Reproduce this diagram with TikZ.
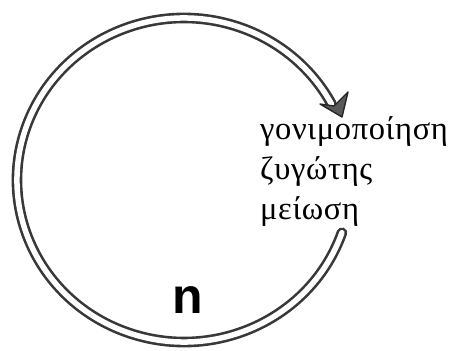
\documentclass[tikz,border=0pt]{standalone}
\usepackage{fontspec}
\usetikzlibrary{calc}
\setmainfont{Liberation Serif}
\newfontfamily\labsans{Liberation Sans}
\begin{document}
\begin{tikzpicture}[x=1pt,y=1pt,
  band/.style={draw=black!78, line width=2.6pt, double=white, double distance=5.5pt, line cap=round},
  headshape/.style={draw=black!85, fill=black!65, line width=1.4pt, line join=round},
  greek/.style={anchor=base west, inner sep=0pt, font=\fontsize{32.5}{40}\selectfont\addfontfeature{LetterSpace=2}},
  bigletter/.style={anchor=base, inner sep=0pt, font=\fontsize{50}{60}\labsans\bfseries}]
\useasboundingbox (0,0) rectangle (453,351);
\coordinate (c) at (184,171);
\draw[band] ($(c)+(-19:167 and 162)$) arc[start angle=-19, end angle=-332, x radius=167, y radius=162] coordinate (arrowbase);
\coordinate (tip) at (342,234);
\draw[headshape] (tip) -- (320,247) -- (334,245) -- (348,259) -- cycle;
\node[greek] (l1) at (260,211) {γονιμοποίηση};
\node[greek] (l2) at (260,171) {ζυγώτης};
\node[greek] (l3) at (260,131) {μείωση};
\node[bigletter] (n) at (188,37) {n};
\end{tikzpicture}
\end{document}
